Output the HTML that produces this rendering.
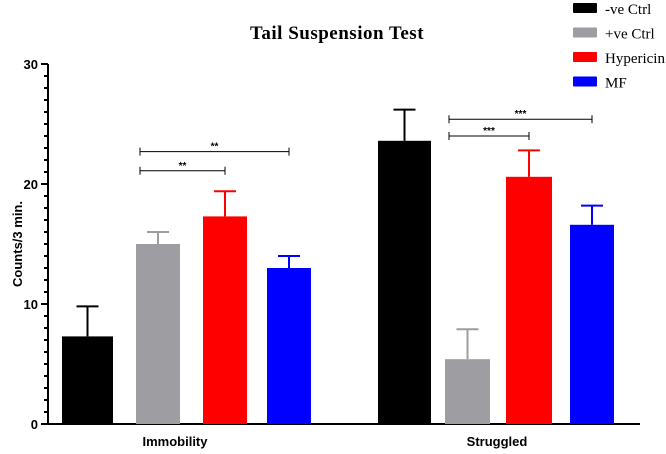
<!DOCTYPE html>
<html><head><style>
body{margin:0;background:#fff;}
svg{display:block;font-family:"Liberation Sans",sans-serif;}
.serif{font-family:"Liberation Serif",serif;}
</style></head><body>
<svg id="chart" width="666" height="454">
<text class="serif" x="337" y="39" text-anchor="middle" font-size="19" font-weight="bold" letter-spacing="0.5">Tail Suspension Test</text>
<text x="22" y="244" transform="rotate(-90 22 244)" text-anchor="middle" font-size="13" font-weight="bold">Counts/3 min.</text>
<g id="axes"></g><g id="bars"></g><g id="sig"></g><g id="legend"></g>
</svg>
<script>
const groups=["Immobility","Struggled"];
const series=["-ve Ctrl","+ve Ctrl","Hypericin","MF"];
const colors=["#000000","#9e9ea2","#ff0000","#0000ff"];
const means=[[7.3,15.0,17.3,13.0],[23.6,5.4,20.6,16.6]];
const errs=[[2.5,1.0,2.1,1.0],[2.6,2.5,2.2,1.6]];
const yTicks=[0,10,20,30];
const sigs=[{g:0,a:1,b:2,y:21.1,label:"**"},{g:0,a:1,b:3,y:22.7,label:"**"},{g:1,a:1,b:2,y:24.0,label:"***"},{g:1,a:1,b:3,y:25.4,label:"***"}];
const NS="http://www.w3.org/2000/svg";
function mk(p,t,at){const e=document.createElementNS(NS,t);for(const k in at)e.setAttribute(k,at[k]);p.appendChild(e);return e;}
const y=v=>424-v*12;
const groupStart=[62,378],barW=[[51,44,44,44],[53,45,46,44]],barOff=[[0,74,141,205],[0,67,128,192]];
const x=(g,i)=>groupStart[g]+barOff[g][i];
const axes=document.getElementById('axes');
let l=mk(axes,'line',{x1:48,y1:y(30),x2:48,y2:y(0)+1,stroke:'#000','stroke-width':2});

l=mk(axes,'line',{x1:47,y1:y(0),x2:640,y2:y(0),stroke:'#000','stroke-width':2});

for(let v=0;v<=30;v++){mk(axes,'line',{x1:v%10?44:41,y1:y(v),x2:48,y2:y(v),stroke:'#000','stroke-width':2});}
yTicks.forEach(v=>{const t=mk(axes,'text',{x:38,y:y(v)+5,'text-anchor':'end','font-size':13,'font-weight':'bold'});t.textContent=v;
});
const bars=document.getElementById('bars');
groups.forEach((gname,g)=>{
 const lab=mk(axes,'text',{x:[175,497][g],y:446,'text-anchor':'middle','font-size':13,'font-weight':'bold'});lab.textContent=gname;
 
 series.forEach((s,i)=>{
  const bx=x(g,i),w=barW[g][i],m=means[g][i],top=y(m+errs[g][i]),cx=bx+w/2;
  mk(bars,'line',{x1:cx,y1:y(m),x2:cx,y2:top,stroke:colors[i],'stroke-width':2});
  mk(bars,'line',{x1:cx-11,y1:top,x2:cx+11,y2:top,stroke:colors[i],'stroke-width':2});
  const r=mk(bars,'rect',{x:bx,y:y(m),width:w,height:y(0)-y(m),fill:colors[i]});
  
 });
});
const sg=document.getElementById('sig');
sigs.forEach(s=>{
 const x1=x(s.g,s.a)+4,x2=x(s.g,s.b)+barW[s.g][s.b]/2,yy=y(s.y);
 const ln=mk(sg,'line',{x1:x1,y1:yy,x2:x2,y2:yy,stroke:'#000','stroke-width':1});
 
 mk(sg,'line',{x1:x1,y1:yy-4,x2:x1,y2:yy+4,stroke:'#000','stroke-width':1});
 mk(sg,'line',{x1:x2,y1:yy-4,x2:x2,y2:yy+4,stroke:'#000','stroke-width':1});
 const t=mk(sg,'text',{x:(x1+x2)/2,y:yy-2,'text-anchor':'middle','font-size':10,'font-weight':'bold'});t.textContent=s.label;
});
const lg=document.getElementById('legend');
series.forEach((s,i)=>{
 const yy=3+i*24.5;
 mk(lg,'rect',{x:573,y:yy,width:24,height:10,fill:colors[i],rx:1});
 const t=mk(lg,'text',{x:605,y:yy+11,'font-size':15,'font-family':'Liberation Serif, serif'});t.textContent=s;
 
});
</script>
</body></html>
